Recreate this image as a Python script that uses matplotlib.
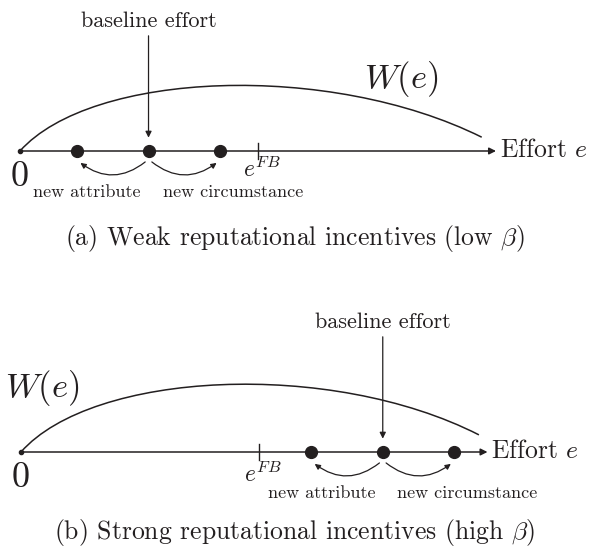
import numpy as np
import matplotlib
matplotlib.use('Agg')
import matplotlib.pyplot as plt
from matplotlib.path import Path
from matplotlib.patches import PathPatch

plt.rcParams['font.family'] = ['cmr10', 'DejaVu Serif']
plt.rcParams['mathtext.fontset'] = 'cm'
plt.rcParams['axes.unicode_minus'] = False

INK = '#231f20'

# effort positions (units on the effort axis, origin = 0)
e_fb = 5.0
weak_efforts = [1.2, 2.7, 4.2]        # new attribute, baseline, new circumstance
strong_efforts = [6.1, 7.6, 9.1]
weak_axis_end = 10.0
strong_axis_end = 9.8

# W(e) drawn as a cubic bezier: control points (effort, welfare)
weak_W = [(0.0, 0.0), (1.5, 1.68), (6.5, 1.88), (9.7, 0.29)]
strong_W = [(0.0, 0.0), (1.5, 1.7), (6.5, 1.95), (9.62, 0.36)]

captions = [r'(a) Weak reputational incentives (low $\beta$)',
            r'(b) Strong reputational incentives (high $\beta$)']

PX = 47.6  # pixels per unit


def panel(ax, efforts, axis_end, W, x0_px, y0_px, top_px, bot_px, W_label_pos,
          fb_y):
    ax.set_xlim(-x0_px / PX, (589 - x0_px) / PX)
    ax.set_ylim(-(bot_px - y0_px) / PX, (y0_px - top_px) / PX)
    ax.axis('off')

    # effort axis
    ax.annotate('', xy=(axis_end, 0), xytext=(0, 0),
                arrowprops=dict(arrowstyle='-|>', color=INK, lw=1.1,
                                mutation_scale=10, shrinkA=0, shrinkB=0))
    ax.plot([0], [0], 'o', color=INK, ms=3)
    ax.text(axis_end + 0.08, 0.02, r'Effort $e$', fontsize=18.5, va='center',
            ha='left', color=INK)
    ax.text(0, -0.55, '0', fontsize=26, ha='center', va='center', color=INK)

    # first best tick
    ax.plot([e_fb, e_fb], [-0.17, 0.17], color=INK, lw=1.0)
    ax.text(e_fb + 0.08, fb_y, r'$e^{FB}$', fontsize=17, ha='center',
            va='baseline', color=INK)

    # welfare curve
    path = Path(W, [Path.MOVETO, Path.CURVE4, Path.CURVE4, Path.CURVE4])
    ax.add_patch(PathPatch(path, fc='none', ec=INK, lw=1.1))
    ax.text(W_label_pos[0], W_label_pos[1], r'$W(e)$', fontsize=25,
            ha='center', va='center', color=INK)

    attr, base, circ = efforts
    ax.plot(efforts, [0, 0, 0], 'o', color=INK, ms=8.5)

    # baseline arrow and label
    ax.annotate('', xy=(base, 0.28), xytext=(base, 2.42),
                arrowprops=dict(arrowstyle='-|>', color=INK, lw=0.9,
                                mutation_scale=9, shrinkA=0, shrinkB=0))
    ax.text(base, 2.6, 'baseline effort', fontsize=16, ha='center',
            va='baseline', color=INK)

    # curved arrows
    ax.annotate('', xy=(attr + 0.07, -0.25), xytext=(base - 0.07, -0.23),
                arrowprops=dict(arrowstyle='-|>', color=INK, lw=0.9,
                                mutation_scale=8, shrinkA=0, shrinkB=0,
                                connectionstyle='arc3,rad=-0.38'))
    ax.annotate('', xy=(circ - 0.07, -0.25), xytext=(base + 0.07, -0.23),
                arrowprops=dict(arrowstyle='-|>', color=INK, lw=0.9,
                                mutation_scale=8, shrinkA=0, shrinkB=0,
                                connectionstyle='arc3,rad=0.38'))
    ax.text(attr + 0.21, -0.87, 'new attribute', fontsize=13, ha='center',
            va='center', color=INK)
    ax.text(circ + 0.28, -0.87, 'new circumstance', fontsize=13, ha='center',
            va='center', color=INK)


fig = plt.figure(figsize=(5.89, 5.50), dpi=100)
ax_a = fig.add_axes([0, 0.5, 1, 0.5])
ax_b = fig.add_axes([0, 0, 1, 0.5])

panel(ax_a, weak_efforts, weak_axis_end, weak_W, 20, 151, 0, 275, (8.0, 1.52),
      -0.55)
panel(ax_b, strong_efforts, strong_axis_end, strong_W, 21, 452, 275, 550,
      (0.44, 1.34), -0.62)

fig.text(0.5, 1 - 238 / 550, captions[0], fontsize=18.5, ha='center',
         va='center', color=INK)
fig.text(0.5, 1 - 532 / 550, captions[1], fontsize=18.5, ha='center',
         va='center', color=INK)

fig.savefig('out.png', dpi=100)
plt.close(fig)
